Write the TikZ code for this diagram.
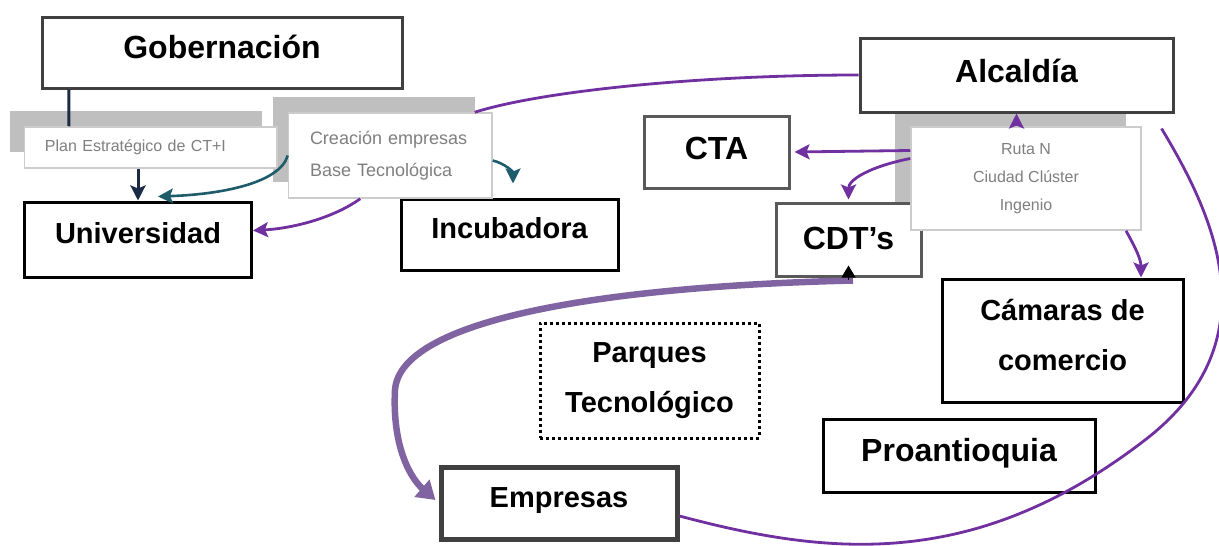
\documentclass[tikz,border=0pt]{standalone}
\usepackage{fontspec}
\setmainfont{Liberation Sans}
\usetikzlibrary{arrows.meta}
\definecolor{morado}{HTML}{7030A0}
\definecolor{lila}{HTML}{8064A2}
\definecolor{azulosc}{HTML}{1C2B45}
\definecolor{petroleo}{HTML}{1F5C6B}
\definecolor{sombra}{HTML}{BFBFBF}
\definecolor{bordegris}{HTML}{CCCCCC}
\definecolor{textogris}{HTML}{7F7F7F}

\begin{document}
\begin{tikzpicture}[x=1pt,y=-1pt,
    caja/.style={draw=black,line width=3pt,fill=white,inner sep=0pt,align=center,
      text depth=11pt,font=\bfseries\fontsize{29}{50}\selectfont},
    cajagrande/.style={caja,font=\bfseries\fontsize{32}{38}\selectfont},
    fondo/.style={fill=sombra,inner sep=0pt},
    nota/.style={draw=bordegris,line width=1.5pt,fill=white,inner sep=0pt,text=textogris},
    punta/.style={-{Stealth[length=15pt,width=15pt,inset=3pt]}},
    flecha/.style={morado,line width=2.8pt,punta},
    linea/.style={morado,line width=2.8pt}]
  \useasboundingbox (0,0) rectangle (1219,546);
  % gray shadows
  \node[fondo,minimum width=252pt,minimum height=41pt] (sombra1) at (136,131.5) {};
  \node[fondo,minimum width=202pt,minimum height=85pt] (sombra2) at (374,139.5) {};
  \node[fondo,minimum width=231pt,minimum height=101pt] (sombra3) at (1010.5,162.5) {};
  % boxes
  \node[cajagrande,draw=black!75,minimum width=360pt,minimum height=71pt] (gob) at (222,52.5) {Gobernación};
  \node[caja,text depth=13pt,minimum width=227pt,minimum height=75pt] (univ) at (138,239.5) {Universidad};
  \node[caja,text depth=14pt,minimum width=217pt,minimum height=71pt] (incu) at (509.5,234.5) {Incubadora};
  \node[cajagrande,draw=black!75,text depth=8pt,minimum width=313pt,minimum height=74pt] (alc) at (1016.5,75) {Alcaldía};
  \node[cajagrande,draw=black!65,text depth=8pt,minimum width=145pt,minimum height=72pt] (cta) at (716.5,152) {CTA};
  \node[cajagrande,draw=black!65,text depth=3pt,minimum width=145pt,minimum height=73pt] (cdt) at (848.5,239.5) {CDT’s};
  \node[caja,minimum width=241pt,minimum height=123pt] (cam) at (1062.5,340.5) {Cámaras de\\comercio};
  \node[cajagrande,minimum width=272pt,minimum height=73pt] (proa) at (959,455.5) {Proantioquia};
  \node[caja,draw=black!75,line width=5pt,minimum width=236pt,minimum height=72pt] (emp) at (559,503) {Empresas};
  \node[caja,dash pattern=on 3pt off 3pt,text depth=6pt,minimum width=219pt,minimum height=115pt] (parq) at (649.5,380.5) {Parques\\Tecnológico};
  % notes
  \node[nota,font=\fontsize{16}{19}\selectfont,text width=211.5pt,inner xsep=20.5pt,align=left,
    minimum height=41pt] (plan) at (150.75,147.5) {Plan Estratégico de CT+I};
  \node[nota,font=\fontsize{18}{32}\selectfont,text width=160.5pt,inner xsep=21.5pt,align=left,
    minimum height=85pt] (crea) at (390.25,155.5) {Creación empresas\\Base Tecnológica};
  \node[nota,font=\fontsize{16}{28}\selectfont,align=center,minimum width=230pt,
    minimum height=103pt] (ruta) at (1026,178.5) {Ruta N\\Ciudad Clúster\\Ingenio};
  % connectors
  \draw[azulosc,line width=3pt] ([xshift=-153pt]gob.south) -- ([xshift=-82pt]plan.north);
  \draw[azulosc,line width=3pt,punta] (plan.south -| univ.north) -- (univ.north);
  \draw[petroleo,line width=2.6pt,punta]
    (crea.west) .. controls +(-8,28) and +(62,-2) .. ([xshift=20pt,yshift=4pt]univ.north);
  \draw[petroleo,line width=2.6pt,punta]
    ([yshift=-5pt]crea.east) .. controls +(12,3) and +(0,-12) .. ([xshift=3.5pt,yshift=14pt]incu.north);
  \draw[flecha] ([xshift=-30pt]crea.south) .. controls +(-28,20) and +(38,-2) .. ([yshift=9pt]univ.east);
  \draw[linea] (alc.west) .. controls +(-160,0) and +(66,-21) .. ([xshift=-18pt]crea.north east);
  \draw[flecha] (ruta.north -| alc.south) -- (alc.south);
  \draw[flecha] ([yshift=28pt]ruta.west) -- ([xshift=4pt]cta.east);
  \draw[flecha] ([yshift=20pt]ruta.west) .. controls +(-40,8) and +(0,-20) .. ([yshift=2pt]cdt.north);
  \draw[flecha] ([xshift=100pt]ruta.south) .. controls +(10,18) and +(0,-18) .. ([xshift=78.5pt]cam.north);
  \coordinate (giro) at (1145,440);
  \draw[linea] ([xshift=-13pt,yshift=-15pt]alc.south east) .. controls +(50,83) and +(130,-100) .. (giro)
    .. controls +(-170,131) and +(150,40) .. ([yshift=-13pt]emp.east);
  \coordinate (codo) at (395,390);
  \draw[lila,line width=6.5pt,-{Triangle[length=18pt,width=22pt]}]
    ([xshift=4.5pt,yshift=-3pt]cdt.south) .. controls +(-253,6) and +(5,-70) .. (codo)
    .. controls +(-3,60) and +(-23,-20) .. ([xshift=-3pt,yshift=3pt]emp.west);
  \draw[line width=1pt,-{Triangle[length=12pt,width=14pt]}] ([yshift=-2pt]cdt.south) -- ([yshift=12pt]cdt.south);
\end{tikzpicture}
\end{document}
